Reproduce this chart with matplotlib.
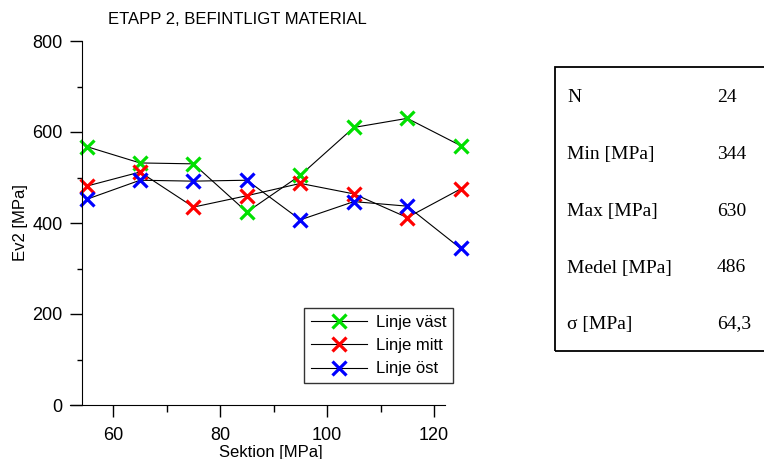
import matplotlib
matplotlib.use("Agg")
import matplotlib.pyplot as plt
from matplotlib.patches import Rectangle
from matplotlib.ticker import MultipleLocator

# Ev2 per sektion och linje
sektion = [55, 65, 75, 85, 95, 105, 115, 125]
linje_vast = [568, 532, 530, 424, 505, 610, 630, 570]
linje_mitt = [481, 512, 435, 460, 487, 464, 412, 475]
linje_ost = [452, 494, 492, 494, 407, 447, 437, 344]

serier = [("Linje väst", linje_vast, "#00e000"),
          ("Linje mitt", linje_mitt, "#ff0000"),
          ("Linje öst", linje_ost, "#0000ff")]

stat_namn = ["N", "Min [MPa]", "Max [MPa]", "Medel [MPa]", "σ [MPa]"]
stat_varde = ["24", "344", "630", "486", "64,3"]

plt.rcParams['font.family'] = ['Liberation Sans', 'DejaVu Sans']

W, H = 764, 459
fig = plt.figure(figsize=(W / 100, H / 100), dpi=100)
ax = fig.add_axes([70 / W, 1 - 405 / H, 401.4 / W, 364 / H])

for namn, v, farg in serier:
    ax.plot(sektion, v, color="black", lw=0.8, marker="x", ms=10, mew=2.3,
            mec=farg, label=namn, clip_on=False)

ax.set_xlim(51.9, 127)
ax.set_ylim(0, 800)

ax.spines['top'].set_visible(False)
ax.spines['right'].set_visible(False)
ax.spines['left'].set_position(('data', 54.1))
ax.spines['bottom'].set_bounds(51.9, 122.1)

ax.xaxis.set_major_locator(MultipleLocator(20))
ax.xaxis.set_minor_locator(MultipleLocator(10))
ax.yaxis.set_major_locator(MultipleLocator(200))
ax.yaxis.set_minor_locator(MultipleLocator(100))
ax.set_xticks([60, 80, 100, 120])
ax.tick_params(axis='both', which='major', labelsize=13, width=1, length=8.6)
ax.tick_params(axis='y', which='major', pad=5)
ax.tick_params(axis='x', which='major', pad=7)
ax.tick_params(axis='y', which='minor', length=3.6, width=1)
ax.tick_params(axis='x', which='minor', length=5, width=1)

ax.set_xlabel("Sektion [MPa]", fontsize=12, labelpad=1)
ax.set_ylabel("Ev2 [MPa]", fontsize=12, labelpad=3)
fig.text(237 / W, 1 - 20 / H, "ETAPP 2, BEFINTLIGT MATERIAL", fontsize=12,
         ha="center", va="center")

leg = ax.legend(loc="upper left", bbox_to_anchor=(304 / W, 1 - 308 / H),
                bbox_transform=fig.transFigure, borderaxespad=0,
                fancybox=False, edgecolor="black", fontsize=12,
                handlelength=3.4, labelspacing=0.5, borderpad=0.4,
                handletextpad=0.5)
leg.get_frame().set_linewidth(1)

# statistikruta
fig.patches.append(Rectangle((555 / W, 1 - 351 / H), 230 / W, 284 / H,
                             transform=fig.transFigure, fill=False,
                             edgecolor="black", lw=1.3))
rad_y = [97, 154, 211, 268, 324]
for y, n, v in zip(rad_y, stat_namn, stat_varde):
    fig.text(567 / W, 1 - y / H, n, fontsize=14, family="Liberation Serif",
             ha="left", va="center")
    fig.text(717 / W, 1 - y / H, v, fontsize=14, family="Liberation Serif",
             ha="left", va="center")

fig.savefig("out.png", dpi=100)
